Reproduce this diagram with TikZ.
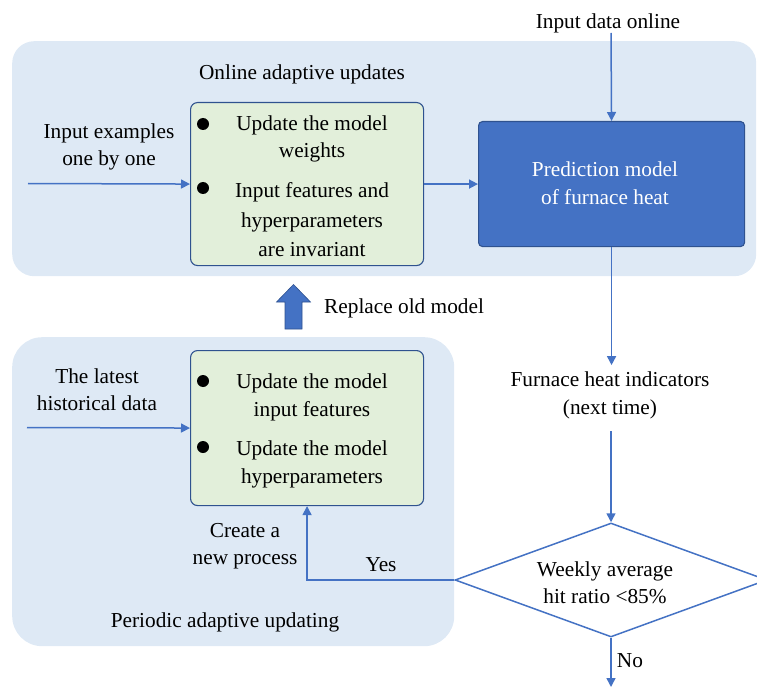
\documentclass[tikz,border=0pt]{standalone}
\usepackage{fontspec}
\setmainfont{Liberation Serif}
\newfontfamily\figfont{Liberation Serif}
\usetikzlibrary{shapes.geometric,arrows.meta}

\definecolor{panelbg}{HTML}{DEE9F5}
\definecolor{greenfill}{HTML}{E2EFDA}
\definecolor{boxedge}{HTML}{2F528F}
\definecolor{flow}{HTML}{4472C4}

\tikzset{
  panel/.style={fill=panelbg, draw=none, anchor=north west, inner sep=0},
  stepbox/.style={draw=boxedge, fill=greenfill, line width=1.1pt, rounded corners=7pt,
    anchor=north west, inner sep=0, minimum width=233, minimum height=163},
  modelbox/.style={draw=boxedge, fill=flow, line width=1.1pt, rounded corners=4pt,
    anchor=north west, inner sep=0, minimum width=266, minimum height=125},
  txt/.style={font=\figfont\fontsize{21.3}{27.5}\selectfont, align=center, inner sep=0},
  widetxt/.style={font=\figfont\fontsize{21.3}{29.5}\selectfont, align=center, inner sep=0},
  dot/.style={circle, fill=black, minimum size=12, inner sep=0},
  flowline/.style={draw=flow, line width=1.5pt, -{Triangle[length=9,width=9]}},
  decision/.style={diamond, draw=flow, line width=1.5pt, fill=white, inner sep=0,
    aspect=2.7, minimum width=312, minimum height=114},
}

\begin{document}
\begin{tikzpicture}[x=1pt,y=-1pt]
\useasboundingbox (0,0) rectangle (757,687);
\clip (0,0) rectangle (757,687);

% background panels
\node[panel, rounded corners=22, minimum width=744, minimum height=235] (online) at (12,41) {};
\node[panel, rounded corners=30, minimum width=442, minimum height=309] (periodic) at (12,337) {};

% online adaptive updates
\node[txt] (onlinetitle) at (302,74) {Online adaptive updates};
\node[stepbox] (onlinebox) at (190,102) {};
\node[dot] (b1) at (203,124) {};
\node[dot] (b2) at (203,188) {};
\node[txt] (t1) at (312,139) {Update the model\\weights};
\node[widetxt] (t2) at (312,220) {Input features and\\hyperparameters\\are invariant};
\node[txt] (exlabel) at (109,147) {Input examples\\one by one};
\coordinate (exIn) at (28,183.5);

\node[modelbox] (model) at (478,121) {};
\node[txt, text=white] (modeltext) at (605,183) {Prediction model\\of furnace heat};
\node[txt] (datalabel) at (608,23) {Input data online};
\coordinate (dataIn) at (611,33);

% replace arrow
\fill[flow, draw=boxedge, line width=0.6pt]
  (285,329) -- (302,329) -- (302,302) -- (310.5,302) -- (293.5,284.5) -- (276.5,302) -- (285,302) -- cycle;
\node[txt, anchor=west] (replace) at (324,308) {Replace old model};

% periodic adaptive updating
\node[stepbox, minimum height=155] (histbox) at (190,350) {};
\node[dot] (b3) at (203,381) {};
\node[dot] (b4) at (203,447) {};
\node[txt] (t3) at (312,397.5) {Update the model\\input features};
\node[txt] (t4) at (312,464.5) {Update the model\\hyperparameters};
\node[txt] (histlabel) at (97,389.5) {The latest\\historical data};
\coordinate (histIn) at (27,427.5);
\node[txt] (newproc) at (245,546) {Create a\\new process};
\node[txt] (yes) at (381,565) {Yes};
\node[txt] (periodictitle) at (225,622) {Periodic adaptive updating};

% decision part
\node[txt] (furnace) at (610,395.5) {Furnace heat indicators\\(next time)};
\node[decision] (check) at (611,580) {};
\node[txt] (checktext) at (605,582.5) {Weekly average\\hit ratio <85\%};
\node[txt] (no) at (630,661) {No};
\coordinate (noEnd) at (611,687);

% connectors
\draw[flowline] (dataIn) -- (model.north);
\draw[flowline] (exIn) -- (onlinebox.west);
\draw[flowline] (onlinebox.east) -- (model.west);
\draw[flowline] (histIn) -- (histbox.west);
\draw[flowline] (model.south) -- ++(0,118);
\draw[flowline] (check.north) ++(0,-91) -- (check.north);
\draw[flowline] (check.west) -| (histbox.south);
\draw[flowline] (check.south) -- (noEnd);
\end{tikzpicture}
\end{document}
